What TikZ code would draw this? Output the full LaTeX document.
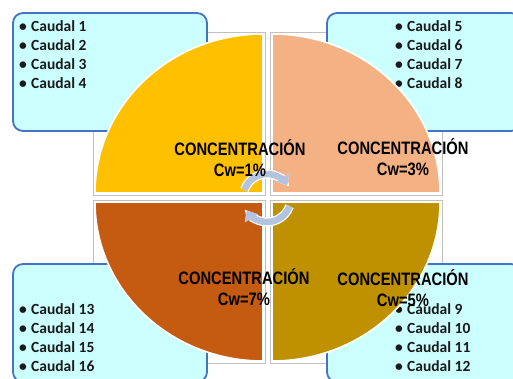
\documentclass[tikz,border=0pt]{standalone}
\usepackage{fontspec}
\usepackage{xcolor}
\usepackage{tikz}
\usetikzlibrary{arrows.meta}
\setmainfont{Carlito}
\newfontfamily\narrowsans[FakeStretch=0.82]{Liberation Sans}
\definecolor{boxFill}{HTML}{CCFFFF}
\definecolor{boxBorder}{HTML}{4472C4}
\definecolor{frameGray}{HTML}{C0C0C0}
\definecolor{qOne}{HTML}{FFC000}
\definecolor{qThree}{HTML}{F4B183}
\definecolor{qFive}{HTML}{BF9000}
\definecolor{qSeven}{HTML}{C55A11}
\definecolor{turnColor}{HTML}{B4C3E0}
\definecolor{itemColor}{HTML}{1A1A1A}

\begin{document}
\begin{tikzpicture}[x=1pt,y=-1pt,
box/.style={draw=boxBorder,line width=1.8pt,fill=boxFill,rounded corners=10pt},
frame/.style={draw=frameGray,line width=0.8pt},
wedge/.style={draw=white,line width=1.6pt},
item/.style={font=\fontsize{15.5}{18}\bfseries,text=itemColor,anchor=base west,inner sep=0pt},
conc/.style={font=\fontsize{18}{20.5}\narrowsans\bfseries,align=center,inner sep=0pt},
turn/.style={draw=turnColor,line width=6.5pt,-{Triangle[width=15pt,length=9pt]},
  preaction={draw=white,line width=9pt}},
]
\useasboundingbox (0,0) rectangle (513,379);
% quadrant frames
\path[frame]
    (93,32) rectangle (265,195)
    (270,32) rectangle (442,195)
    (93,200) rectangle (265,363)
    (270,200) rectangle (442,363);
% boxes behind the circle
\path[box]
    (13,13) rectangle (207,131)
    (327,13) rectangle (521,131)
    (13,264) rectangle (207,382)
    (327,264) rectangle (521,382);
\foreach \k in {1,...,4} {
  \node[item] (c\k) at (19,13+19*\k) {\makebox[12pt][l]{•}Caudal \k};
  \pgfmathtruncatemacro{\m}{\k+4}
  \node[item] (c\m) at (395,13+19*\k) {\makebox[12pt][l]{•}Caudal \m};
}
\foreach \k in {9,...,12}
  \node[item] (c\k) at (395,143+19*\k) {\makebox[12pt][l]{•}Caudal \k};
\foreach \k in {13,...,16}
  \node[item] (c\k) at (19,67+19*\k) {\makebox[12pt][l]{•}Caudal \k};
% quadrants
\path[wedge,fill=qOne] (263,193) -- (95,193)
    arc[start angle=180,end angle=270,x radius=168,y radius=159] -- cycle;
\path[wedge,fill=qThree] (272,193) -- (272,34)
    arc[start angle=270,end angle=360,x radius=168,y radius=159] -- cycle;
\path[wedge,fill=qFive] (272,202) -- (440,202)
    arc[start angle=0,end angle=90,x radius=168,y radius=159] -- cycle;
\path[wedge,fill=qSeven] (263,202) -- (263,361)
    arc[start angle=90,end angle=180,x radius=168,y radius=159] -- cycle;
% cycle arrows
\coordinate (mid) at (267,198);
\draw[turn] ([shift={(200:24)}]mid) arc[start angle=200,end angle=328,radius=24];
\draw[turn] ([shift={(20:24)}]mid) arc[start angle=20,end angle=148,radius=24];
% labels
\node[conc] (cw1) at (240,158) {CONCENTRACIÓN\\Cw=1\%};
\node[conc] (cw3) at (403,157) {CONCENTRACIÓN\\Cw=3\%};
\node[conc] (cw7) at (244,287) {CONCENTRACIÓN\\Cw=7\%};
\node[conc] (cw5) at (403,288) {CONCENTRACIÓN\\Cw=5\%};
\end{tikzpicture}
\end{document}
